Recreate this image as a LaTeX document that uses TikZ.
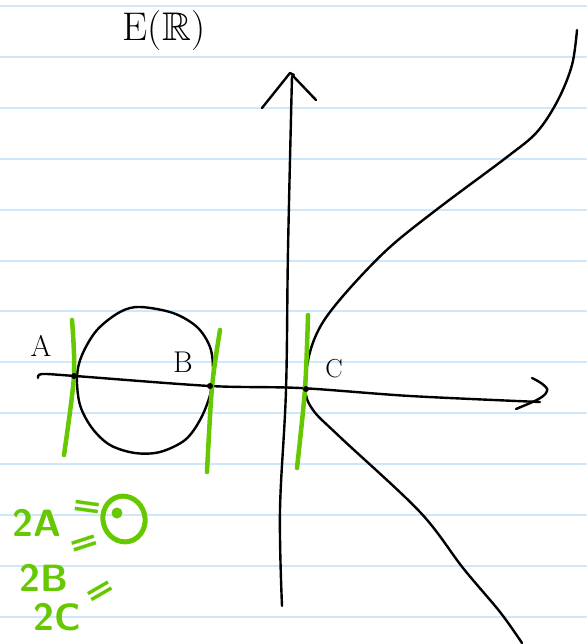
\documentclass[tikz,border=0pt]{standalone}
\usepackage{amssymb}
\usepackage{fontspec}
\newfontfamily\greenfont{DejaVu Sans}
\definecolor{rulecol}{RGB}{204,232,250}
\definecolor{hlgreen}{RGB}{102,200,0}
\begin{document}
\begin{tikzpicture}[x=1pt,y=-1pt,
  ink/.style={line width=2.4pt, line cap=round, line join=round},
  gr/.style={hlgreen, line width=4.5pt, line cap=round, line join=round},
  ptdot/.style={fill=black, circle, inner sep=0pt, minimum size=6pt},
  blab/.style={font=\fontsize{30}{34}\selectfont, inner sep=0pt},
  glab/.style={text=hlgreen, font=\fontsize{38}{44}\selectfont\sffamily\bfseries, inner sep=0pt},
  geq/.style={text=hlgreen, font=\fontsize{31}{31}\selectfont\greenfont\bfseries, inner sep=0pt, text height=15pt, text depth=-7pt}]
\useasboundingbox (0,0) rectangle (587,644);
\fill[white] (0,0) rectangle (587,644);
% ruled paper
\foreach \yy in {6,57,108,159,210,261,311,362,413,464,515,566,617}
  \draw[rulecol, line width=1.6pt] (0,\yy) -- (587,\yy);

% title
\node[font=\fontsize{40}{46}\selectfont, inner sep=0pt] (title) at (164,31) {E($\mathbb{R}$)};

% vertical axis
\draw[ink] plot[smooth, tension=0.6] coordinates {(282,606) (280,510) (286,390) (288,250) (292,76)};
\coordinate (vtip) at (290,73);
\draw[ink] (262,108) -- (vtip) -- (294,75);
\draw[ink] (294,77) -- (316,100);

% horizontal axis
\draw[ink] plot[smooth, tension=0.5] coordinates {(38,378) (42,374) (75,376) (210,386) (300,388) (410,396) (540,402)};
\coordinate (htip) at (547,391);
\draw[ink] (532,378) .. controls (545,384) and (549,390) .. (htip) .. controls (545,398) and (530,403) .. (516,409);

% circle component
\draw[ink] plot[smooth cycle, tension=0.55] coordinates {(77,377) (82,355) (97,330) (120,312) (140,307) (173,313) (197,327) (210,347) (213,370) (210,395) (200,420) (185,440) (160,452) (135,453) (110,445) (92,428) (80,405)};

% unbounded component
\draw[ink] plot[smooth, tension=0.55] coordinates {(577,30) (572,65) (558,100) (537,132) (507,157) (440,207) (390,247) (350,288) (323,322) (310,352) (305,388) (313,410) (340,437) (420,512) (463,568) (500,612) (522,643)};

% green tangent lines
\draw[gr] plot[smooth] coordinates {(72,320) (74,376) (64,455)};
\draw[gr] plot[smooth] coordinates {(220,330) (212,387) (207,472)};
\draw[gr] plot[smooth] coordinates {(308,315) (305,389) (297,468)};

% points
\node[ptdot] (A) at (74,376) {};
\node[ptdot] (B) at (210,386) {};
\node[ptdot] (C) at (306,389) {};
\node[blab] (Alab) at (41,346) {A};
\node[blab] (Blab) at (183,362) {B};
\node[blab, font=\fontsize{26}{30}\selectfont] (Clab) at (334,369) {C};

% green notes
\node[glab] (twoA) at (37,523) {2A};
\node[geq, rotate=-8] (eq1) at (87,509) {\scalebox{1.2}[1]{=}};
\draw[hlgreen, line width=5pt, rotate around={15:(124,519)}] (124,519) ellipse [x radius=21, y radius=23];
\fill[hlgreen] (117,513) circle (5.5);
\node[geq, rotate=18] (eq2) at (85,546) {\scalebox{1.2}[1]{=}};
\node[glab] (twoB) at (44,578) {2B};
\node[glab] (twoC) at (57,617) {2C};
\node[geq, rotate=30] (eq3) at (101,593) {\scalebox{1.2}[1]{=}};
\end{tikzpicture}
\end{document}
